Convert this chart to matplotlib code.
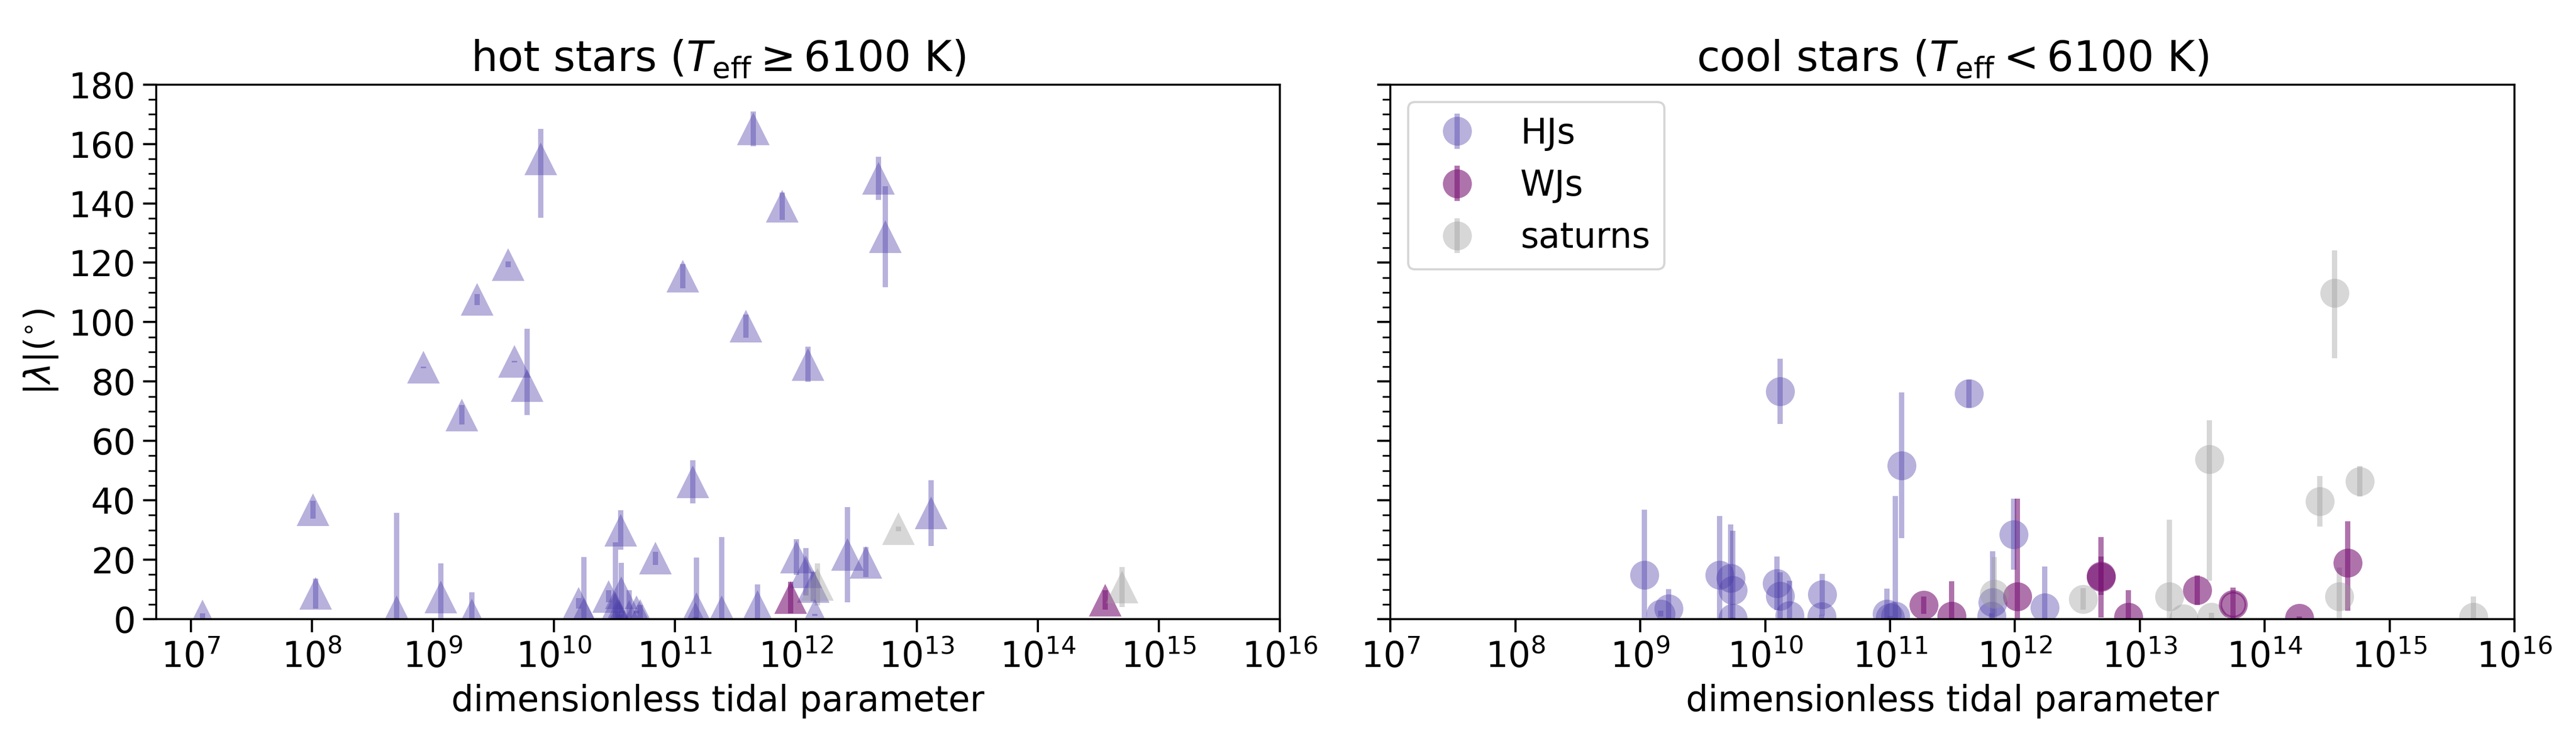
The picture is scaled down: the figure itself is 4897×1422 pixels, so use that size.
import matplotlib
matplotlib.use("Agg")
import matplotlib.pyplot as plt
from matplotlib.ticker import LogLocator, NullLocator, MultipleLocator

plt.rcParams['font.family'] = ['DejaVu Sans']
plt.rcParams['font.size'] = 16

# ---------------- hot stars (Teff >= 6100 K) ----------------
hot_hj_x = [1.25e7, 1.02e8, 1.08e8, 5.0e8, 1.16e9, 2.1e9, 8.4e8, 1.74e9, 2.32e9, 4.2e9,
            4.75e9, 6.0e9, 7.8e9, 1.6e10, 1.77e10, 2.83e10, 3.24e10, 3.56e10, 3.6e10, 3.37e10,
            3.46e10, 4.19e10, 4.83e10, 5.2e10, 6.9e10, 1.16e11, 1.41e11, 1.51e11, 1.48e11, 2.44e11,
            3.88e11, 4.47e11, 4.82e11, 7.76e11, 1.01e12, 1.21e12, 1.26e12, 1.39e12, 1.44e12, 2.68e12,
            3.79e12, 4.85e12, 5.48e12, 1.31e13]
hot_hj_y = [1.0, 36.9, 8.6, 2.5, 7.4, 1.4, 84.8, 68.8, 107.6, 119.4,
            86.7, 78.7, 154.9, 5.3, 1.7, 7.7, 3.8, 30.0, 8.8, 1.4,
            0.8, 0.8, 2.4, 1.3, 20.5, 115.5, 46.2, 3.5, 0.2, 2.5,
            98.7, 165.1, 4.3, 139.1, 20.9, 15.9, 85.8, 11.0, 1.4, 21.7,
            19.2, 148.4, 128.8, 35.7]
hot_hj_lo = [1.0, 3.0, 5.0, 2.5, 7.4, 1.4, 0.3, 3.2, 1.9, 1.0,
             0.3, 9.9, 19.8, 1.8, 1.7, 2.0, 3.8, 6.7, 8.8, 1.0,
             0.8, 0.8, 0.5, 1.3, 2.2, 4.1, 7.2, 3.5, 0.2, 2.5,
             3.9, 5.9, 4.3, 4.6, 6.0, 8.0, 5.9, 4.9, 0.3, 16.0,
             5.0, 7.2, 17.0, 11.1]
hot_hj_hi = [1.0, 3.0, 5.0, 33.2, 11.3, 7.6, 0.3, 3.2, 1.9, 1.0,
             0.3, 19.1, 10.2, 1.8, 19.2, 2.0, 22.0, 6.7, 10.2, 1.0,
             0.8, 9.0, 0.5, 3.4, 2.2, 4.1, 7.2, 17.2, 0.5, 25.1,
             3.9, 5.9, 7.3, 4.6, 6.0, 8.0, 5.9, 4.9, 0.3, 16.0,
             5.0, 7.2, 17.0, 11.1]

hot_wj_x = [9.08e11, 3.61e14]
hot_wj_y = [7.3, 6.4]
hot_wj_lo = [5.35, 3.3]
hot_wj_hi = [5.35, 3.3]

hot_sat_x = [1.51e12, 7.08e12, 4.98e14]
hot_sat_y = [11.7, 30.4, 10.8]
hot_sat_lo = [7.1, 0.8, 6.7]
hot_sat_hi = [7.1, 0.8, 6.7]

# ---------------- cool stars (Teff < 6100 K) ----------------
cool_hj_x = [1.08e9, 1.46e9, 1.68e9, 4.3e9, 5.3e9, 5.5e9, 5.52e9, 1.24e10, 1.31e10, 1.32e10,
             1.56e10, 2.82e10, 2.86e10, 9.44e10, 1.0e11, 1.1e11, 1.24e11, 4.27e11, 6.6e11, 6.5e11,
             9.77e11, 1.73e12]
cool_hj_y = [14.8, 1.8, 3.5, 14.8, 13.8, 9.8, 0.3, 12.0, 76.7, 7.75,
             1.2, 0.9, 8.3, 1.8, 0.5, 1.0, 51.8, 75.9, 5.6, 1.0,
             28.6, 3.9]
cool_hj_lo = [22.0, 1.0, 3.5, 20.0, 18.0, 20.0, 0.3, 9.0, 11.0, 8.0,
              1.2, 0.5, 7.0, 1.8, 0.5, 1.0, 24.5, 4.7, 5.6, 1.0,
              12.0, 3.9]
cool_hj_hi = [22.0, 1.0, 6.6, 20.0, 18.0, 20.0, 0.3, 9.0, 11.0, 8.0,
              11.7, 0.5, 7.0, 8.5, 0.5, 40.5, 24.5, 4.7, 17.2, 1.0,
              12.0, 13.8]

cool_wj_x = [1.85e11, 3.12e11, 1.04e12, 4.9e12, 4.9e12, 8.07e12, 2.88e13, 1.9e14, 4.61e14]
cool_wj_y = [4.7, 1.0, 7.6, 14.1, 14.6, 0.75, 9.7, 0.4, 18.9]
cool_wj_lo = [3.0, 1.0, 7.6, 13.5, 6.5, 0.75, 5.0, 0.4, 16.1]
cool_wj_hi = [3.0, 11.8, 33.0, 13.5, 6.5, 9.0, 5.0, 0.5, 14.0]

# WJ drawn with an outlined marker
cool_wj_ring_x = [5.58e13]
cool_wj_ring_y = [5.0]
cool_wj_ring_lo = [5.7]
cool_wj_ring_hi = [5.7]

cool_sat_x = [6.8e11, 3.5e12, 1.73e13, 2.25e13, 3.59e13, 3.74e13, 2.75e14, 3.63e14, 3.94e14, 5.78e14,
              4.67e15]
cool_sat_y = [8.5, 6.8, 7.6, 0.2, 53.8, 0.7, 39.6, 109.8, 7.6, 46.4,
              0.7]
cool_sat_lo = [8.5, 3.7, 7.6, 0.2, 40.8, 0.7, 8.5, 21.9, 7.6, 5.2,
               0.7]
cool_sat_hi = [12.4, 3.7, 25.8, 0.2, 13.1, 1.5, 8.5, 14.3, 9.8, 5.2,
               7.0]

labels = ["HJs", "WJs", "saturns"]
col_hj = (75/255, 60/255, 168/255)
col_wj = (122/255, 22/255, 117/255)
col_sat = (155/255, 155/255, 155/255)
a_hj, a_wj, a_sat = 0.4, 0.6, 0.4

W, H = 4897 / 300, 1422 / 300
fig = plt.figure(figsize=(W, H), dpi=300)
ax1 = fig.add_axes([0.06075, 0.1723, 0.4360, 0.7147])
ax2 = fig.add_axes([0.53982, 0.1723, 0.4363, 0.7147])


def draw(ax, x, y, lo, hi, marker, color, alpha, ms, label=None, mew=0):
    ax.errorbar(x, y, yerr=[lo, hi], fmt=marker, color=color, alpha=alpha,
                ms=ms, mew=mew, mec=color, elinewidth=2.4, capsize=0, label=label)


ms_tri, ms_circ = 14.7, 13.2
draw(ax1, hot_hj_x, hot_hj_y, hot_hj_lo, hot_hj_hi, '^', col_hj, a_hj, ms_tri)
draw(ax1, hot_wj_x, hot_wj_y, hot_wj_lo, hot_wj_hi, '^', col_wj, a_wj, ms_tri)
draw(ax1, hot_sat_x, hot_sat_y, hot_sat_lo, hot_sat_hi, '^', col_sat, a_sat, ms_tri)

draw(ax2, cool_hj_x, cool_hj_y, cool_hj_lo, cool_hj_hi, 'o', col_hj, a_hj, ms_circ, labels[0])
draw(ax2, cool_wj_x, cool_wj_y, cool_wj_lo, cool_wj_hi, 'o', col_wj, a_wj, ms_circ, labels[1])
draw(ax2, cool_sat_x, cool_sat_y, cool_sat_lo, cool_sat_hi, 'o', col_sat, a_sat, ms_circ, labels[2])
draw(ax2, cool_wj_ring_x, cool_wj_ring_y, cool_wj_ring_lo, cool_wj_ring_hi, 'o', col_wj, a_wj,
     ms_circ - 1.5, mew=1.5)

ax1.set_xlim(5.2e6, 1e16)
ax2.set_xlim(1e7, 1e16)
for ax in (ax1, ax2):
    ax.set_xscale('log')
    ax.set_ylim(0, 180)
    ax.xaxis.set_major_locator(LogLocator(base=10, numticks=30))
    ax.xaxis.set_minor_locator(NullLocator())
    ax.yaxis.set_major_locator(MultipleLocator(20))
    ax.yaxis.set_minor_locator(MultipleLocator(5))
    ax.tick_params(which='major', length=6, width=1.0, labelsize=16)
    ax.tick_params(which='minor', length=3.5, width=0.8)
    for s in ax.spines.values():
        s.set_linewidth(0.9)
    ax.set_xlabel('dimensionless tidal parameter', fontsize=16)

ax2.tick_params(axis='y', labelleft=False)
ax1.set_ylabel(r'$|\lambda| (^{\circ})$', fontsize=16)
ax1.set_title(r'hot stars ($T_{\rm eff} \geq 6100$ K)', fontsize=19.2)
ax2.set_title(r'cool stars ($T_{\rm eff} < 6100$ K)', fontsize=19.2)
ax2.legend(loc='upper left', fontsize=16)

fig.savefig('out.png', dpi=300)
